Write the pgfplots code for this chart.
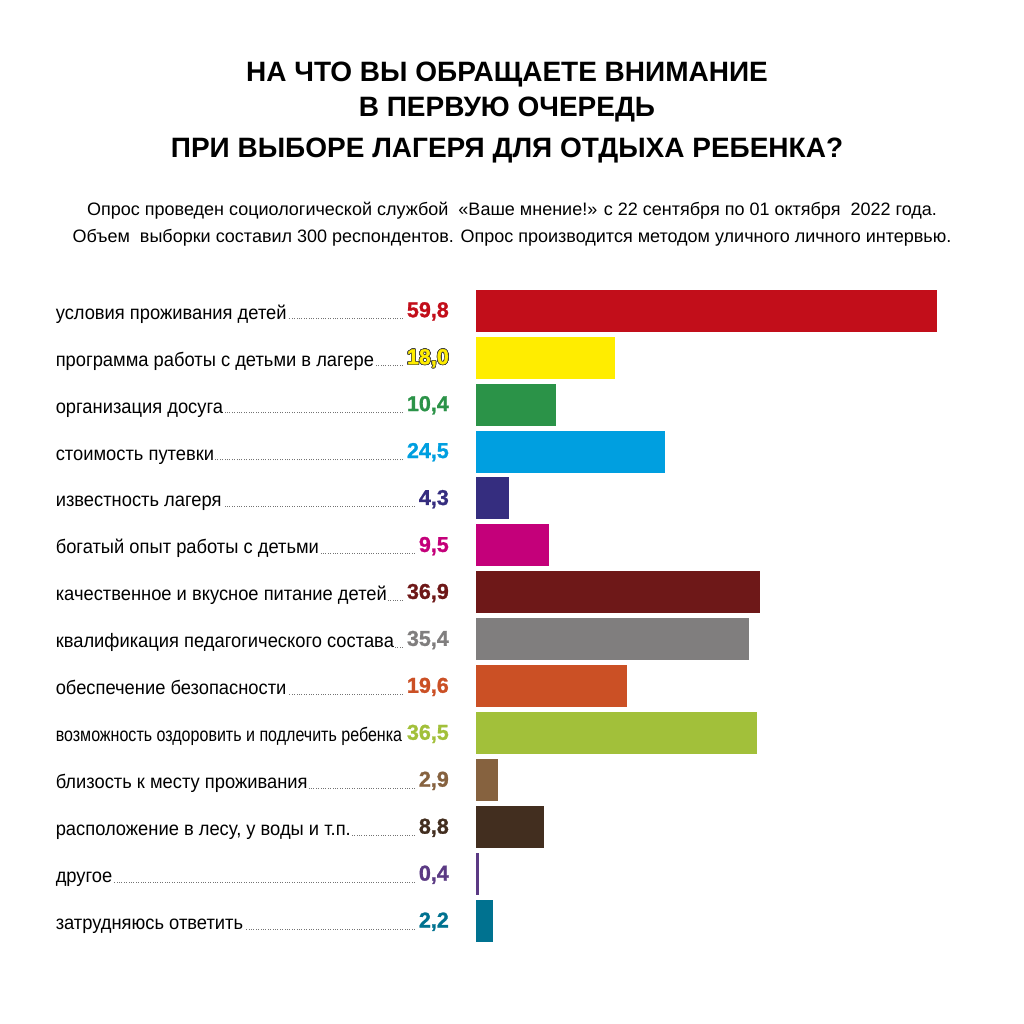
\documentclass[border=0pt]{standalone}
\usepackage{fontspec}
\setmainfont{Liberation Sans}
\newfontfamily\lblfont{Liberation Sans}[FakeStretch=0.94]
\newfontfamily\valfont{Liberation Sans}[BoldFeatures={FakeBold=1.2}]
\usepackage{pgfplots}
\pgfplotsset{compat=1.18}
\usepackage[copies]{contour}
\contourlength{0.7pt}

\definecolor{c1}{HTML}{C20E1A}
\definecolor{c2}{HTML}{FFED00}
\definecolor{c3}{HTML}{2B9348}
\definecolor{c4}{HTML}{009FE0}
\definecolor{c5}{HTML}{352D7F}
\definecolor{c6}{HTML}{C4007A}
\definecolor{c7}{HTML}{6E1818}
\definecolor{c8}{HTML}{807E7E}
\definecolor{c9}{HTML}{CB5025}
\definecolor{c10}{HTML}{A2C03A}
\definecolor{c11}{HTML}{86623F}
\definecolor{c12}{HTML}{422E1F}
\definecolor{c13}{HTML}{5B3A84}
\definecolor{c14}{HTML}{007290}

% label, dotted leader, coloured value
\newcommand\lbl[3]{\makebox[393pt][l]{\lblfont\fontsize{19.5}{21}\selectfont #1\leaders\hbox to 2.4pt{\hss\textcolor{black!55}{\rule{0.7pt}{0.7pt}}\hss}\hfill\hspace{2pt}\raisebox{2pt}{\textcolor{#2}{\valfont\bfseries\fontsize{21.5}{23}\selectfont #3}}}}

\begin{document}
\begin{tikzpicture}
\path[fill=white, use as bounding box] (0,0) rectangle (1024pt,-1024pt);

\node[anchor=base, font=\bfseries\fontsize{28}{30}\selectfont] at (507pt,-81.7pt) {НА ЧТО ВЫ ОБРАЩАЕТЕ ВНИМАНИЕ};
\node[anchor=base, font=\bfseries\fontsize{28}{30}\selectfont] at (507pt,-116.7pt) {В ПЕРВУЮ ОЧЕРЕДЬ};
\node[anchor=base, font=\bfseries\fontsize{28}{30}\selectfont] at (507pt,-158pt) {ПРИ ВЫБОРЕ ЛАГЕРЯ ДЛЯ ОТДЫХА РЕБЕНКА?};

\node[anchor=base, font=\fontsize{18}{20}\selectfont] at (512pt,-215pt) {Опрос проведен социологической службой \ «Ваше мнение!» с 22 сентября по 01 октября \ 2022 года.};
\node[anchor=base, font=\fontsize{18}{20}\selectfont] at (512pt,-242.7pt) {Объем \ выборки составил 300 респондентов. Опрос производится методом уличного личного интервью.};

\begin{axis}[
  at={(476pt,-287.2pt)}, anchor=north west,
  scale only axis, width=460.5pt, height=657.3pt,
  xmin=0, xmax=59.8,
  ymin=-0.5, ymax=13.5, y dir=reverse,
  axis x line=none, axis y line=left, axis line style={draw=none},
  clip=false,
  xbar, bar width=0.895, bar shift=0pt,
  ytick={0,...,13},
  major tick length=0pt,
  yticklabel style={anchor=base east, inner sep=0pt, xshift=-27pt, yshift=-8.5pt},
  yticklabels={
    {\lbl{условия проживания детей}{c1}{59,8}},
    {\lbl{программа работы с детьми в лагере}{c2}{\contour{black!75}{18,0}}},
    {\lbl{организация досуга}{c3}{10,4}},
    {\lbl{стоимость путевки}{c4}{24,5}},
    {\lbl{известность лагеря}{c5}{4,3}},
    {\lbl{богатый опыт работы с детьми}{c6}{9,5}},
    {\lbl{качественное и вкусное питание детей}{c7}{36,9}},
    {\lbl{квалификация педагогического состава}{c8}{35,4}},
    {\lbl{обеспечение безопасности}{c9}{19,6}},
    {\lbl{\scalebox{0.875}[1]{возможность оздоровить и подлечить ребенка}}{c10}{36,5}},
    {\lbl{близость к месту проживания}{c11}{2,9}},
    {\lbl{расположение в лесу, у воды и т.п.}{c12}{8,8}},
    {\lbl{другое}{c13}{0,4}},
    {\lbl{затрудняюсь ответить}{c14}{2,2}}
  },
]
\addplot[fill=c1, draw=none] coordinates {(59.8,0)};
\addplot[fill=c2, draw=none] coordinates {(18.0,1)};
\addplot[fill=c3, draw=none] coordinates {(10.4,2)};
\addplot[fill=c4, draw=none] coordinates {(24.5,3)};
\addplot[fill=c5, draw=none] coordinates {(4.3,4)};
\addplot[fill=c6, draw=none] coordinates {(9.5,5)};
\addplot[fill=c7, draw=none] coordinates {(36.9,6)};
\addplot[fill=c8, draw=none] coordinates {(35.4,7)};
\addplot[fill=c9, draw=none] coordinates {(19.6,8)};
\addplot[fill=c10, draw=none] coordinates {(36.5,9)};
\addplot[fill=c11, draw=none] coordinates {(2.9,10)};
\addplot[fill=c12, draw=none] coordinates {(8.8,11)};
\addplot[fill=c13, draw=none] coordinates {(0.4,12)};
\addplot[fill=c14, draw=none] coordinates {(2.2,13)};
\end{axis}
\end{tikzpicture}
\end{document}
